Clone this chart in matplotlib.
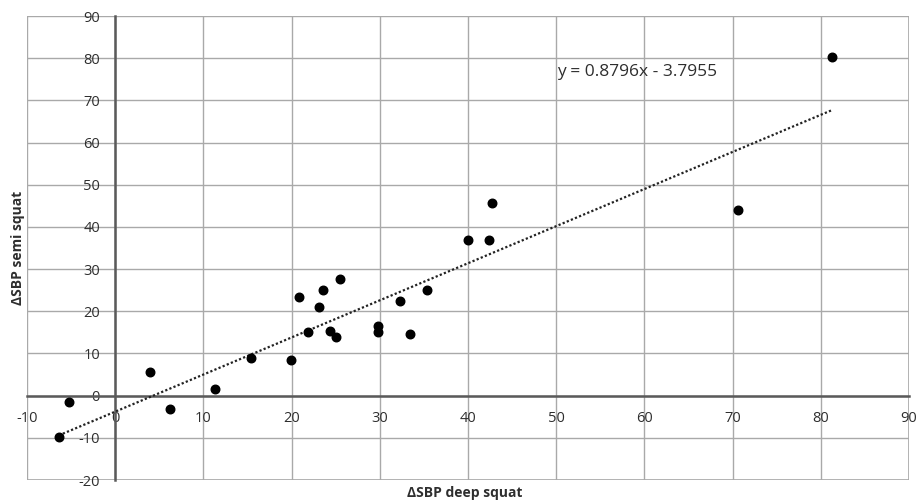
import numpy as np
import matplotlib
matplotlib.use("Agg")
import matplotlib.pyplot as plt
from matplotlib.patches import Rectangle

# values
deep_squat = [-6.4, -5.2, 3.9, 6.2, 11.3, 15.4, 19.9, 20.8, 21.9, 23.1, 23.6, 24.4,
              25.0, 25.5, 29.8, 29.8, 32.3, 33.4, 35.4, 40.0, 42.4, 42.7, 70.6, 81.3]
semi_squat = [-9.9, -1.6, 5.7, -3.2, 1.5, 9.0, 8.5, 23.4, 15.0, 21.0, 25.0, 15.4,
              13.8, 27.6, 16.4, 15.0, 22.4, 14.5, 25.0, 36.8, 36.8, 45.6, 43.9, 80.3]
slope = 0.8796
intercept = -3.7955
x_ticks = list(range(-10, 91, 10))
y_ticks = list(range(-20, 91, 10))

plt.rcParams['font.family'] = ['Open Sans', 'DejaVu Sans']
plt.rcParams['axes.unicode_minus'] = False
text_col = '#2e2e2e'
grid_col = '#a9a9a9'
axis_col = '#5a5a5a'

fig = plt.figure(figsize=(9.18, 5.03), dpi=100)
ax = fig.add_axes([27 / 918, 1 - 480 / 503, 882 / 918, 464 / 503])
ax.set_xlim(-10, 90)
ax.set_ylim(-20, 90)
ax.set_xticks(x_ticks)
ax.set_yticks(y_ticks)
ax.grid(True, color=grid_col, linewidth=1.0)
ax.set_axisbelow(True)

# axis lines cross at the origin, like the Excel chart
for side in ['top', 'right']:
    ax.spines[side].set_visible(False)
ax.spines['left'].set_position(('data', 0))
ax.spines['bottom'].set_position(('data', 0))
ax.spines['left'].set_color(axis_col)
ax.spines['bottom'].set_color(axis_col)
ax.spines['left'].set_linewidth(1.8)
ax.spines['bottom'].set_linewidth(1.8)
ax.add_patch(Rectangle((0, 0), 1, 1, transform=ax.transAxes, fill=False,
                       edgecolor=grid_col, linewidth=1.2, zorder=0.5))

ax.tick_params(axis='both', length=0, labelsize=10.5, labelcolor=text_col)
ax.tick_params(axis='x', pad=11)
ax.tick_params(axis='y', pad=11)

# trend line
xs = np.array([min(deep_squat), max(deep_squat)])
ax.plot(xs, slope * xs + intercept, color='#222222', linestyle=(0, (1, 1)),
        linewidth=1.6, zorder=3)

ax.scatter(deep_squat, semi_squat, s=38, color='black', zorder=4, clip_on=False)

ax.text(50.1, 76.7, f"y = {slope}x - {abs(intercept)}", fontsize=12.5,
        color=text_col, va='center', ha='left')

fig.text(465 / 918, 1 - 493 / 503, "ΔSBP deep squat", ha='center', va='center',
         fontsize=10, fontweight='bold', color=text_col)
fig.text(18 / 918, 1 - 248 / 503, "ΔSBP semi squat", ha='center', va='center',
         rotation=90, fontsize=10, fontweight='bold', color=text_col)

fig.savefig("out.png", dpi=100)
